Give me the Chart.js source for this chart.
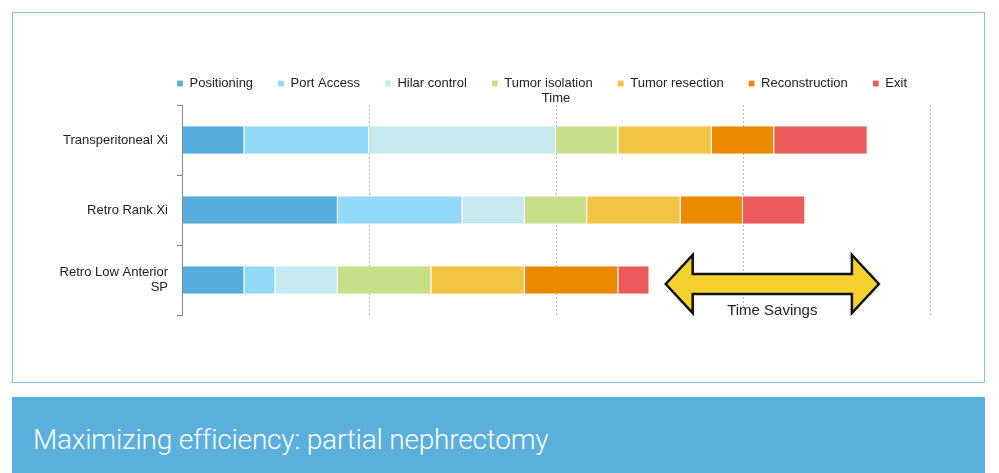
<!DOCTYPE html>
<html lang="en">
<head>
    <meta charset="UTF-8">
    <title>Maximizing efficiency: partial nephrectomy</title>
    <script src="https://cdn.jsdelivr.net/npm/chart.js"></script>
    <style>
        html, body { margin: 0; overflow: hidden; }
        body { background: #fff; width: 999px; height: 473px; position: relative; }
        #box { position: absolute; left: 12px; top: 12px; width: 973px; height: 371px; box-sizing: border-box; border: 1px solid #8cc2d6; }
        #wrap { position: absolute; left: 0; top: 0; width: 999px; height: 384px; overflow: hidden; }
        #banner { position: absolute; left: 12px; top: 397px; width: 973px; height: 76px; background: #5aafdd; }
        #banner span { position: absolute; left: 21px; top: 26px; color: #fff; font: 300 28px Roboto, sans-serif; letter-spacing: -0.2px; white-space: nowrap; }
    </style>
</head>
<body>
    <div id="box"></div>
    <div id="wrap"><canvas id="timeChart" width="1054" height="384"></canvas></div>
    <div id="banner"><span>Maximizing efficiency: partial nephrectomy</span></div>

    <script>
        const approaches = ['Transperitoneal Xi', 'Retro Rank Xi', ['Retro Low Anterior', 'SP']];
        const steps = ['Positioning', 'Port Access', 'Hilar control', 'Tumor isolation', 'Tumor resection', 'Reconstruction', 'Exit'];
        const stepColors = ['#56addb', '#93d9f8', '#c7e8ee', '#c8df8a', '#f2c443', '#eb8a00', '#ec5b5b'];

        // minutes per step, one array per step, in the order of approaches
        const positioning = [10, 25, 10];
        const portAccess = [20, 20, 5];
        const hilarControl = [30, 10, 10];
        const tumorIsolation = [10, 10, 15];
        const tumorResection = [15, 15, 15];
        const reconstruction = [10, 10, 15];
        const exitStep = [15, 10, 5];
        const stepValues = [positioning, portAccess, hilarControl, tumorIsolation, tumorResection, reconstruction, exitStep];

        const timeMax = 120;
        const timeStep = 30;

        // double arrow drawn in data units
        const arrowFrom = 77.6;
        const arrowTo = 111.8;
        const arrowLabel = 'Time Savings';

        const font = 'Liberation Sans, Arial, sans-serif';

        const arrowPlugin = {
            id: 'savingsArrow',
            afterDatasetsDraw(chart) {
                const {ctx, scales: {x, y}} = chart;
                const x1 = x.getPixelForValue(arrowFrom);
                const x2 = x.getPixelForValue(arrowTo);
                const cy = y.getPixelForValue(2) + 4;
                const head = 27, hh = 29, sh = 10;
                ctx.save();
                ctx.beginPath();
                ctx.moveTo(x1, cy);
                ctx.lineTo(x1 + head, cy - hh);
                ctx.lineTo(x1 + head, cy - sh);
                ctx.lineTo(x2 - head, cy - sh);
                ctx.lineTo(x2 - head, cy - hh);
                ctx.lineTo(x2, cy);
                ctx.lineTo(x2 - head, cy + hh);
                ctx.lineTo(x2 - head, cy + sh);
                ctx.lineTo(x1 + head, cy + sh);
                ctx.lineTo(x1 + head, cy + hh);
                ctx.closePath();
                ctx.fillStyle = '#f5d12f';
                ctx.fill();
                ctx.lineWidth = 2.5;
                ctx.lineJoin = 'miter';
                ctx.strokeStyle = '#111';
                ctx.stroke();
                ctx.fillStyle = '#222';
                ctx.font = '15px ' + font;
                ctx.textAlign = 'center';
                ctx.textBaseline = 'middle';
                ctx.fillText(arrowLabel, (x1 + x2) / 2, cy + 27);
                ctx.restore();
            }
        };

        const ctx = document.getElementById('timeChart').getContext('2d');

        new Chart(ctx, {
            type: 'bar',
            data: {
                labels: approaches,
                datasets: steps.map((name, i) => ({
                    label: name,
                    data: stepValues[i],
                    backgroundColor: stepColors[i],
                    borderColor: '#ffffff',
                    borderWidth: {left: 0, right: 1, top: 0, bottom: 0},
                    borderSkipped: false,
                    barPercentage: 0.39,
                    categoryPercentage: 1
                }))
            },
            options: {
                indexAxis: 'y',
                responsive: false,
                animation: false,
                layout: {
                    padding: {left: 30, right: 0, top: 52, bottom: 69}
                },
                plugins: {
                    legend: {
                        position: 'top',
                        labels: {
                            boxWidth: 6,
                            boxHeight: 6,
                            padding: 25,
                            color: '#222',
                            font: {family: font, size: 13}
                        }
                    },
                    tooltip: {enabled: false}
                },
                scales: {
                    x: {
                        type: 'linear',
                        position: 'top',
                        stacked: true,
                        min: 0,
                        max: timeMax,
                        ticks: {display: false, stepSize: timeStep},
                        grid: {color: '#bdbdbd', lineWidth: 1, drawTicks: false},
                        border: {display: false, dash: [2, 2]},
                        title: {
                            display: true,
                            text: 'Time',
                            color: '#222',
                            font: {family: font, size: 13},
                            padding: {top: -9, bottom: 0}
                        },
                        afterFit: (scale) => { scale.height = 5; }
                    },
                    y: {
                        type: 'category',
                        position: 'left',
                        stacked: true,
                        ticks: {color: '#222', padding: 9, font: {family: font, size: 13}},
                        grid: {drawOnChartArea: false, drawTicks: true, tickLength: 5, color: '#888'},
                        border: {color: '#888', width: 1},
                        afterFit: (scale) => { scale.width = 152; }
                    },
                    spacer: {
                        type: 'linear',
                        position: 'right',
                        display: true,
                        ticks: {display: false},
                        grid: {display: false},
                        border: {display: false},
                        afterFit: (scale) => { scale.width = 124; }
                    }
                }
            },
            plugins: [arrowPlugin]
        });
    </script>
</body>
</html>
